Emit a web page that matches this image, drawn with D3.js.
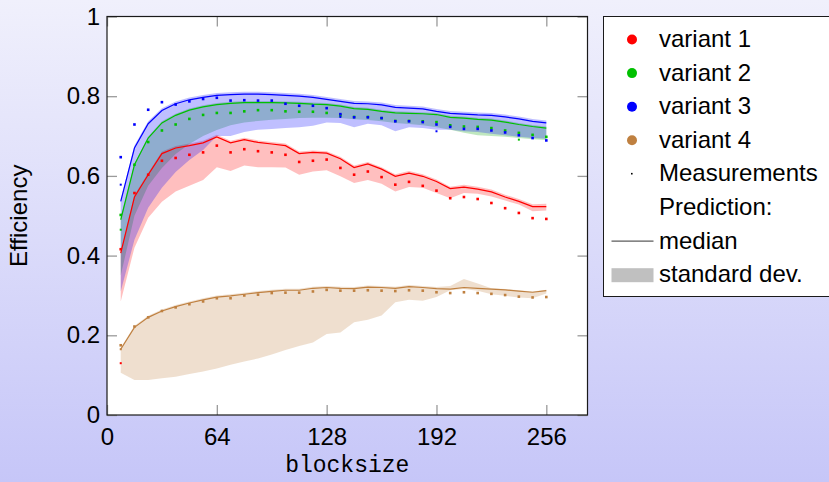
<!DOCTYPE html>
<html>
<head>
<meta charset="utf-8">
<script src="https://cdn.jsdelivr.net/npm/d3@7"></script>
<style>
  body { margin: 0; }
  svg { display: block; }
  text { font-family: "Liberation Sans", Arial, sans-serif; }
</style>
</head>
<body>
<svg id="chart" width="829" height="482"></svg>
<script>
// Block sizes (x values)
const blocksize = [8,16,24,32,40,48,56,64,72,80,88,96,104,112,120,128,136,144,152,160,168,176,184,192,200,208,216,224,232,240,248,256];

// Variant 1
const v1Median = [0.406,0.547,0.603,0.656,0.670,0.676,0.683,0.698,0.683,0.691,0.684,0.680,0.676,0.656,0.659,0.657,0.643,0.621,0.630,0.617,0.599,0.607,0.599,0.586,0.568,0.572,0.567,0.560,0.547,0.536,0.523,0.523];
const v1Upper  = [0.410,0.552,0.608,0.661,0.675,0.681,0.688,0.703,0.688,0.696,0.689,0.685,0.681,0.661,0.664,0.662,0.648,0.626,0.635,0.622,0.604,0.612,0.604,0.591,0.573,0.578,0.573,0.566,0.553,0.542,0.529,0.530];
const v1Lower  = [0.285,0.420,0.495,0.535,0.561,0.575,0.590,0.622,0.612,0.626,0.622,0.622,0.621,0.603,0.611,0.614,0.599,0.582,0.590,0.580,0.561,0.572,0.570,0.557,0.544,0.557,0.555,0.548,0.538,0.528,0.511,0.513];
const v1Meas   = [0.416,0.557,0.603,0.638,0.645,0.653,0.659,0.676,0.659,0.667,0.662,0.659,0.653,0.635,0.638,0.641,0.620,0.603,0.611,0.597,0.578,0.585,0.575,0.563,0.544,0.547,0.542,0.532,0.519,0.507,0.494,0.492];
const v1Extra  = [[8,0.130]];

// Variant 2
const v2Median = [0.490,0.628,0.695,0.733,0.752,0.765,0.773,0.779,0.782,0.784,0.784,0.784,0.783,0.782,0.780,0.779,0.775,0.769,0.767,0.762,0.758,0.757,0.756,0.754,0.747,0.745,0.742,0.740,0.735,0.729,0.724,0.720];
const v2Upper  = [0.494,0.632,0.699,0.737,0.756,0.769,0.777,0.783,0.786,0.788,0.788,0.788,0.787,0.786,0.784,0.783,0.779,0.773,0.771,0.766,0.762,0.761,0.760,0.758,0.751,0.749,0.746,0.744,0.739,0.733,0.728,0.724];
const v2Lower  = [0.350,0.500,0.575,0.620,0.655,0.680,0.700,0.715,0.727,0.734,0.738,0.741,0.743,0.745,0.746,0.746,0.745,0.742,0.740,0.737,0.733,0.730,0.727,0.722,0.716,0.708,0.702,0.700,0.698,0.695,0.692,0.690];
const v2Meas   = [0.502,0.628,0.685,0.714,0.729,0.743,0.753,0.758,0.758,0.762,0.765,0.765,0.762,0.761,0.761,0.758,0.752,0.748,0.748,0.745,0.738,0.738,0.737,0.735,0.727,0.724,0.723,0.720,0.714,0.708,0.703,0.698];
const v2Extra  = [[8,0.465],[240,0.691]];

// Variant 3
const v3Median = [0.536,0.670,0.731,0.764,0.781,0.791,0.797,0.802,0.804,0.805,0.805,0.804,0.802,0.800,0.797,0.792,0.787,0.782,0.781,0.778,0.772,0.770,0.768,0.762,0.757,0.755,0.753,0.752,0.748,0.743,0.737,0.733];
const v3Upper  = [0.542,0.676,0.737,0.770,0.787,0.797,0.803,0.808,0.810,0.811,0.811,0.810,0.808,0.806,0.803,0.798,0.793,0.788,0.787,0.784,0.778,0.776,0.774,0.768,0.763,0.761,0.759,0.758,0.754,0.749,0.743,0.739];
const v3Lower  = [0.310,0.440,0.520,0.570,0.610,0.640,0.665,0.700,0.700,0.710,0.716,0.718,0.720,0.722,0.726,0.734,0.733,0.722,0.731,0.727,0.712,0.722,0.720,0.716,0.716,0.712,0.710,0.706,0.702,0.698,0.695,0.693];
const v3Meas   = [0.647,0.729,0.766,0.785,0.779,0.787,0.793,0.796,0.789,0.790,0.789,0.789,0.781,0.776,0.776,0.770,0.755,0.747,0.747,0.745,0.737,0.737,0.735,0.729,0.723,0.718,0.718,0.714,0.709,0.702,0.695,0.689];
const v3Extra  = [[8,0.578],[136,0.748],[192,0.712]];

// Variant 4
const v4Median = [0.165,0.220,0.245,0.261,0.272,0.281,0.289,0.296,0.299,0.303,0.307,0.310,0.313,0.313,0.318,0.320,0.318,0.317,0.321,0.320,0.318,0.322,0.320,0.317,0.316,0.320,0.318,0.316,0.314,0.311,0.308,0.312];
const v4Upper  = [0.169,0.224,0.249,0.265,0.276,0.285,0.293,0.300,0.303,0.307,0.311,0.314,0.317,0.317,0.322,0.324,0.322,0.321,0.325,0.324,0.322,0.326,0.324,0.321,0.324,0.341,0.330,0.318,0.316,0.313,0.310,0.314];
const v4Lower  = [0.106,0.088,0.088,0.092,0.096,0.103,0.109,0.117,0.126,0.134,0.142,0.152,0.163,0.173,0.182,0.203,0.207,0.233,0.239,0.250,0.283,0.289,0.287,0.296,0.313,0.316,0.312,0.303,0.299,0.295,0.293,0.305];
const v4Meas   = [0.175,0.222,0.245,0.261,0.270,0.278,0.285,0.293,0.293,0.300,0.302,0.306,0.307,0.307,0.310,0.314,0.312,0.312,0.313,0.312,0.311,0.313,0.312,0.308,0.306,0.308,0.306,0.304,0.301,0.297,0.295,0.296];
const v4Extra  = [[8,0.165]];

const xTicks = [0, 64, 128, 192, 256];
const yTicks = [0, 0.2, 0.4, 0.6, 0.8, 1];
const legendLabels = ["variant 1", "variant 2", "variant 3", "variant 4", "Measurements", "Prediction:", "median", "standard dev."];

const series = [
  { name: "variant 4", color: "#bf8040", band: "#bf8040", median: v4Median, upper: v4Upper, lower: v4Lower, meas: v4Meas, extra: v4Extra },
  { name: "variant 1", color: "#ff0000", band: "#ff0000", median: v1Median, upper: v1Upper, lower: v1Lower, meas: v1Meas, extra: v1Extra },
  { name: "variant 2", color: "#00c000", band: "#00a000", median: v2Median, upper: v2Upper, lower: v2Lower, meas: v2Meas, extra: v2Extra },
  { name: "variant 3", color: "#0000ff", band: "#0000ff", median: v3Median, upper: v3Upper, lower: v3Lower, meas: v3Meas, extra: v3Extra }
];

const svg = d3.select("#chart");
const W = 829, H = 482;
const plot = { left: 107, right: 587.5, top: 16.5, bottom: 415 };

// page background
const defs = svg.append("defs");
const grad = defs.append("linearGradient").attr("id", "bg").attr("x1", 0).attr("y1", 0).attr("x2", 0).attr("y2", 1);
grad.append("stop").attr("offset", "0%").attr("stop-color", "#f0f0fc");
grad.append("stop").attr("offset", "100%").attr("stop-color", "#c6c6f8");
svg.append("rect").attr("width", W).attr("height", H).attr("fill", "url(#bg)");

defs.append("clipPath").attr("id", "plotclip").append("rect")
  .attr("x", plot.left).attr("y", plot.top)
  .attr("width", plot.right - plot.left).attr("height", plot.bottom - plot.top);

const x = d3.scaleLinear().domain([0, 280]).range([plot.left, plot.right]);
const y = d3.scaleLinear().domain([0, 1]).range([plot.bottom, plot.top]);

svg.append("rect").attr("x", plot.left).attr("y", plot.top)
  .attr("width", plot.right - plot.left).attr("height", plot.bottom - plot.top)
  .attr("fill", "#ffffff");

const g = svg.append("g").attr("clip-path", "url(#plotclip)");

// standard deviation bands
const area = d3.area().x(d => x(d.x)).y0(d => y(d.lo)).y1(d => y(d.hi));
series.forEach(s => {
  const pts = blocksize.map((b, i) => ({ x: b, lo: s.lower[i], hi: s.upper[i] }));
  g.append("path").datum(pts).attr("d", area)
    .attr("fill", s.band).attr("fill-opacity", 0.25).attr("stroke", "none");
});

// median lines
const line = d3.line().x(d => x(d.x)).y(d => y(d.v));
series.forEach(s => {
  const pts = blocksize.map((b, i) => ({ x: b, v: s.median[i] }));
  g.append("path").datum(pts).attr("d", line)
    .attr("fill", "none").attr("stroke", s.color).attr("stroke-width", 1.2);
});

// measurements
series.forEach(s => {
  const pts = blocksize.map((b, i) => [b, s.meas[i]]);
  g.selectAll(null).data(pts).enter().append("rect")
    .attr("x", d => x(d[0]) - 1.3).attr("y", d => y(d[1]) - 1.3)
    .attr("width", 2.6).attr("height", 2.6).attr("fill", s.color);
  g.selectAll(null).data(s.extra).enter().append("rect")
    .attr("x", d => x(d[0]) - 1).attr("y", d => y(d[1]) - 1)
    .attr("width", 2).attr("height", 2).attr("fill", s.color);
});

// axes with inward ticks on all four sides
const tickColor = "#9a9a9a";
function styleAxis(sel) {
  sel.select(".domain").remove();
  sel.selectAll(".tick line").attr("stroke", tickColor).attr("stroke-width", 1.3);
  sel.selectAll(".tick text").attr("fill", "#000").style("font-size", "24px")
    .style("font-family", "'Liberation Sans', Arial, sans-serif");
}

const xAxis = svg.append("g").attr("transform", `translate(0,${plot.bottom})`)
  .call(d3.axisBottom(x).tickValues(xTicks).tickFormat(d3.format("d")).tickSizeInner(-10).tickSizeOuter(0).tickPadding(13));
styleAxis(xAxis);
const xAxisTop = svg.append("g").attr("transform", `translate(0,${plot.top})`)
  .call(d3.axisTop(x).tickValues(xTicks).tickFormat("").tickSizeInner(-10).tickSizeOuter(0));
styleAxis(xAxisTop);

const yAxis = svg.append("g").attr("transform", `translate(${plot.left},0)`)
  .call(d3.axisLeft(y).tickValues(yTicks).tickFormat(d => d === 0 ? "0" : d === 1 ? "1" : d3.format(".1f")(d)).tickSizeInner(-10).tickSizeOuter(0).tickPadding(7));
styleAxis(yAxis);
const yAxisRight = svg.append("g").attr("transform", `translate(${plot.right},0)`)
  .call(d3.axisRight(y).tickValues(yTicks).tickFormat("").tickSizeInner(-10).tickSizeOuter(0));
styleAxis(yAxisRight);

// plot frame
svg.append("rect").attr("x", plot.left).attr("y", plot.top)
  .attr("width", plot.right - plot.left).attr("height", plot.bottom - plot.top)
  .attr("fill", "none").attr("stroke", "#1a1a1a").attr("stroke-width", 1.2);

// axis titles
svg.append("text").attr("x", (plot.left + plot.right) / 2).attr("y", 472)
  .attr("text-anchor", "middle")
  .style("font-family", "'Liberation Mono', 'DejaVu Sans Mono', monospace")
  .style("font-size", "23px").text("blocksize");

svg.append("text").attr("transform", `translate(27,${(plot.top + plot.bottom) / 2}) rotate(-90)`)
  .attr("text-anchor", "middle").style("font-size", "24px").text("Efficiency");

// legend
const lg = svg.append("g");
lg.append("rect").attr("x", 603.5).attr("y", 16.5).attr("width", 240).attr("height", 280)
  .attr("fill", "#ffffff").attr("stroke", "#1a1a1a").attr("stroke-width", 1);
const rowBase = i => 47 + i * 33.6;
const legendColors = ["#ff0000", "#00c000", "#0000ff", "#bf8040"];
legendLabels.forEach((lab, i) => {
  lg.append("text").attr("x", 659).attr("y", rowBase(i)).style("font-size", "24px").text(lab);
});
legendColors.forEach((c, i) => {
  lg.append("circle").attr("cx", 632).attr("cy", rowBase(i) - 7.5).attr("r", 5).attr("fill", c);
});
lg.append("rect").attr("x", 631).attr("y", rowBase(4) - 8.5).attr("width", 1.6).attr("height", 1.6).attr("fill", "#000");
lg.append("line").attr("x1", 611.5).attr("x2", 653.5).attr("y1", rowBase(6) - 7.5).attr("y2", rowBase(6) - 7.5)
  .attr("stroke", "#333").attr("stroke-width", 1);
lg.append("rect").attr("x", 611.5).attr("y", rowBase(7) - 14).attr("width", 42).attr("height", 14).attr("fill", "#c0c0c0");
</script>
</body>
</html>
